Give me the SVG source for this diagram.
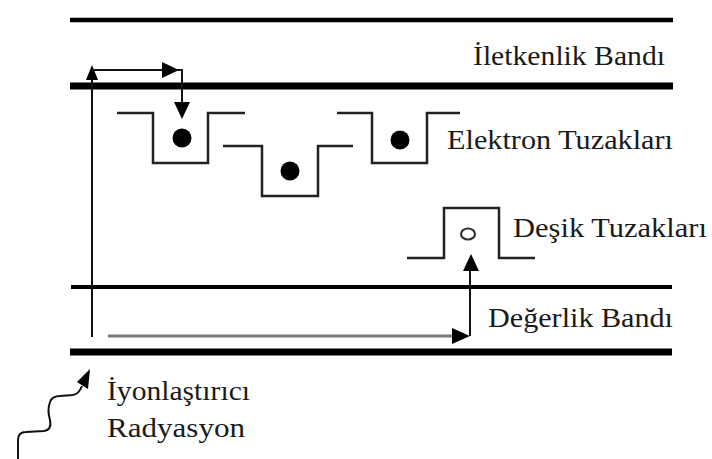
<svg xmlns="http://www.w3.org/2000/svg" width="712" height="459" viewBox="0 0 712 459">
<style>
.band{stroke:#000;fill:none}
.trap{stroke:#222;stroke-width:2.5;fill:none}
.ln{stroke:#111;stroke-width:2;fill:none}
.ah{fill:#000}
.t{font-family:"Liberation Serif","Times New Roman",serif;font-size:28px;fill:#1a1a1a}
</style>
<rect width="712" height="459" fill="#fff"/>
<g id="bands">
<line class="band" x1="70" y1="20" x2="673" y2="20" stroke-width="4.5"/>
<line class="band" x1="70" y1="86" x2="673" y2="86" stroke-width="7"/>
<line class="band" x1="71" y1="287" x2="672" y2="287" stroke-width="4"/>
<line class="band" x1="70" y1="352" x2="672" y2="352" stroke-width="7"/>
</g>
<g id="labels">
<text class="t" x="473" y="65" textLength="192" lengthAdjust="spacingAndGlyphs">İletkenlik Bandı</text>
<text class="t" x="447" y="149" textLength="226" lengthAdjust="spacingAndGlyphs">Elektron Tuzakları</text>
<text class="t" x="513" y="237" textLength="194" lengthAdjust="spacingAndGlyphs">Deşik Tuzakları</text>
<text class="t" x="488" y="327" textLength="185" lengthAdjust="spacingAndGlyphs">Değerlik Bandı</text>
<text class="t" x="107" y="400" textLength="143" lengthAdjust="spacingAndGlyphs">İyonlaştırıcı</text>
<text class="t" x="107" y="437" textLength="138" lengthAdjust="spacingAndGlyphs">Radyasyon</text>
</g>
<g id="trap1">
<path class="trap" d="M117,113 H153 V163 H208 V113 H245"/>
<circle cx="182" cy="138" r="9.5" fill="#000"/>
</g>
<g id="trap2">
<path class="trap" d="M223,146 H262 V196 H318 V146 H353"/>
<circle cx="290" cy="171" r="9.5" fill="#000"/>
</g>
<g id="trap3">
<path class="trap" d="M337,113 H372 V163 H427 V113 H460"/>
<circle cx="400" cy="140" r="9.5" fill="#000"/>
</g>
<g id="holetrap">
<path class="trap" d="M407,258 H444 V208 H499 V258 H535"/>
<ellipse cx="468" cy="234" rx="7" ry="5.5" fill="none" stroke="#333" stroke-width="2.2"/>
</g>
<g id="connectors">
<path class="ln" d="M92,337 V74"/>
<polygon class="ah" points="92,65 86,80 98,80"/>
<path class="ln" d="M92,70 H182 V106"/>
<polygon class="ah" points="179,70 162,62 162,78"/>
<polygon class="ah" points="182,119 174,102 190,102"/>
<path d="M108,336 H456" stroke="#777" stroke-width="3" fill="none"/>
<polygon class="ah" points="470,336 452,328 452,344"/>
<path class="ln" d="M470,336 V266"/>
<polygon class="ah" points="471,254 463,271 479,271"/>
<path class="ln" d="M18,459 L18,440 Q18,432 26,432 L44,431 Q52,430 50,420 Q47,410 50,402 Q52,396 60,396 L73,395 Q79,394 82,386"/>
<polygon class="ah" points="90,369 77,382 88,389"/>
</g>
</svg>
